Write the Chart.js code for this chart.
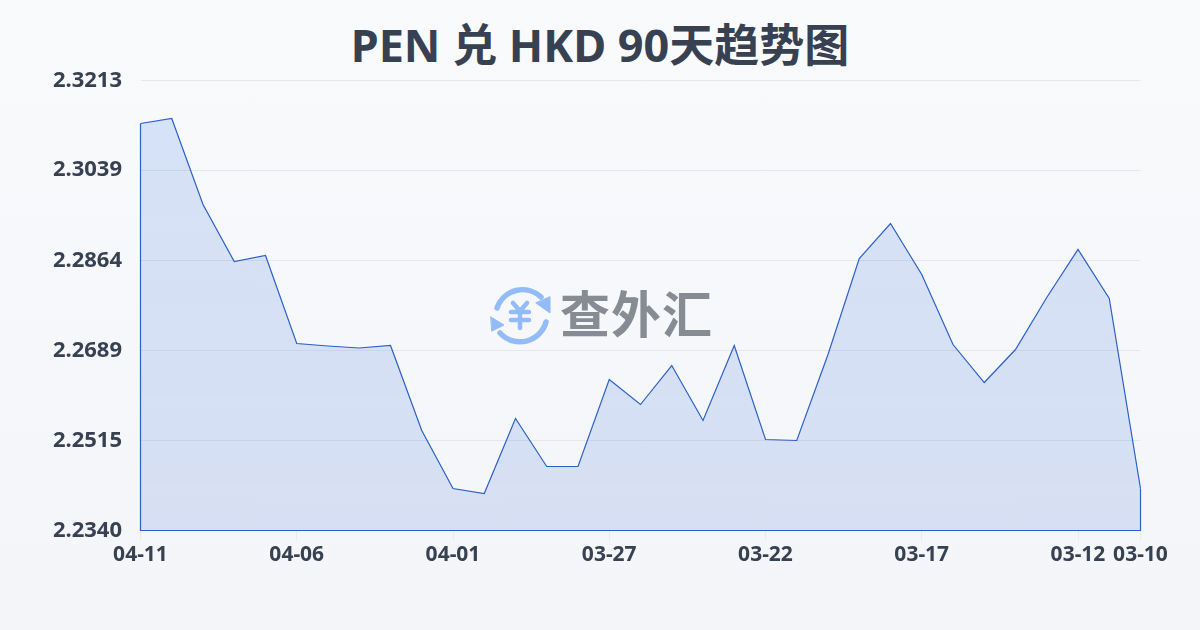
<!DOCTYPE html>
<html>
<head>
<meta charset="utf-8">
<script src="https://cdn.jsdelivr.net/npm/chart.js@4/dist/chart.umd.min.js"></script>
<style>
  html, body { margin: 0; padding: 0; }
  body { width: 1200px; height: 630px; overflow: hidden; position: relative; background: linear-gradient(180deg, #f8fafc 0%, #f3f5f8 100%); }
  #wrap { position: absolute; left: 0; top: 0; width: 1200px; height: 630px; }
  #logo { position: absolute; left: 0; top: 0; }
  #logoText { position: absolute; left: 560px; top: 275px; font: 700 50px "Noto Sans CJK SC", sans-serif; letter-spacing: 1px; line-height: 72px; color: #878b93; }
  #title { position: absolute; left: 0; top: 18px; width: 1200px; text-align: center; font: 700 45px/54px "Noto Sans", "Noto Sans CJK SC", sans-serif; color: #374151; }
</style>
</head>
<body>
<svg id="logo" width="1200" height="630" fill="none" stroke="#93bbf8" stroke-width="5.5" stroke-linecap="round">
  <path d="M497 308 A27 27 0 0 1 541 297" />
  <path d="M546 322 A27 27 0 0 1 500 333" />
  <path d="M550 297 L550 313 L536 303 Z" fill="#93bbf8" stroke="#93bbf8" stroke-width="1" stroke-linejoin="round" />
  <path d="M491 317 L504 325 L492 331 Z" fill="#93bbf8" stroke="#93bbf8" stroke-width="1" stroke-linejoin="round" />
  <path d="M513 303 L520 311 L527 303 M511 312 L529 312 M511 320 L529 320 M520 311 L520 328" stroke-width="4.5" />
</svg>
<div id="logoText">查外汇</div>
<div id="title">PEN 兑 HKD 90天趋势图</div>
<div id="wrap"><canvas id="chart" width="1200" height="630"></canvas></div>
<script>
const dates = ['04-11','04-10','04-09','04-08','04-07','04-06','04-05','04-04','04-03','04-02','04-01',
  '03-31','03-30','03-29','03-28','03-27','03-26','03-25','03-24','03-23','03-22',
  '03-21','03-20','03-19','03-18','03-17','03-16','03-15','03-14','03-13','03-12','03-11','03-10'];
const rates = [2.31296,2.31393,2.29724,2.28619,2.28735,2.27028,2.26979,2.26941,2.26989,2.25340,2.24215,
  2.24118,2.25573,2.24642,2.24642,2.26329,2.25844,2.26601,2.25534,2.26989,2.25165,
  2.25146,2.26814,2.28677,2.29356,2.28366,2.27008,2.26271,2.26911,2.27920,2.28852,2.27901,2.24215];
const xTickLabels = ['04-11','04-06','04-01','03-27','03-22','03-17','03-12','03-10'];
const yTickLabels = ['2.3213','2.3039','2.2864','2.2689','2.2515','2.2340'];

const font = '"Noto Sans", "Noto Sans CJK SC", sans-serif';
const lineColor = '#2a60c8';

// closes the area outline: down the first point, along the bottom, up to the last point
const outlinePlugin = {
  id: 'outline',
  afterDatasetsDraw(chart) {
    const pts = chart.getDatasetMeta(0).data;
    const first = pts[0], last = pts[pts.length - 1];
    const bottom = chart.chartArea.bottom;
    const ctx = chart.ctx;
    ctx.save();
    ctx.strokeStyle = lineColor;
    ctx.lineWidth = 1.2;
    ctx.beginPath();
    ctx.moveTo(first.x, first.y);
    ctx.lineTo(first.x, bottom);
    ctx.lineTo(last.x, bottom);
    ctx.lineTo(last.x, last.y);
    ctx.stroke();
    ctx.restore();
  }
};

const ctx = document.getElementById('chart').getContext('2d');
new Chart(ctx, {
  type: 'line',
  data: {
    labels: dates,
    datasets: [{
      data: rates,
      borderColor: lineColor,
      borderWidth: 1.2,
      pointRadius: 0,
      tension: 0,
      fill: 'start',
      backgroundColor: c => {
        const area = c.chart.chartArea;
        if (!area) return 'rgba(37,99,235,0.15)';
        const g = c.chart.ctx.createLinearGradient(0, area.top, 0, area.bottom);
        g.addColorStop(0, 'rgba(52,112,235,0.17)');
        g.addColorStop(1, 'rgba(52,100,215,0.15)');
        return g;
      }
    }]
  },
  options: {
    responsive: false,
    animation: false,
    layout: { padding: { left: 0, right: 59.5, top: 80.5, bottom: 62.5 } },
    plugins: {
      legend: { display: false },
      tooltip: { enabled: false },
      title: { display: false }
    },
    scales: {
      x: {
        afterFit: s => { s.height = 37; },
        grid: { drawOnChartArea: false, drawTicks: true, tickLength: 10, color: '#e8eaee' },
        border: { display: false },
        afterBuildTicks: s => {
          s.ticks = s.ticks.filter(t => xTickLabels.includes(dates[t.value]));
        },
        ticks: {
          autoSkip: false,
          maxRotation: 0,
          padding: 2,
          color: '#374151',
          font: { family: font, size: 21, weight: '700' },
          callback: v => dates[v]
        }
      },
      y: {
        min: 2.2340,
        max: 2.3213,
        afterFit: s => { s.width = 140.5; },
        afterBuildTicks: s => {
          s.ticks = yTickLabels.map(l => ({ value: Number(l) }));
        },
        grid: { color: '#e5e7eb', lineWidth: 1, drawTicks: false },
        border: { display: false },
        ticks: {
          padding: 18.5,
          color: '#374151',
          font: { family: font, size: 22, weight: '700' },
          callback: v => v.toFixed(4)
        }
      }
    }
  },
  plugins: [outlinePlugin]
});
</script>
</body>
</html>
